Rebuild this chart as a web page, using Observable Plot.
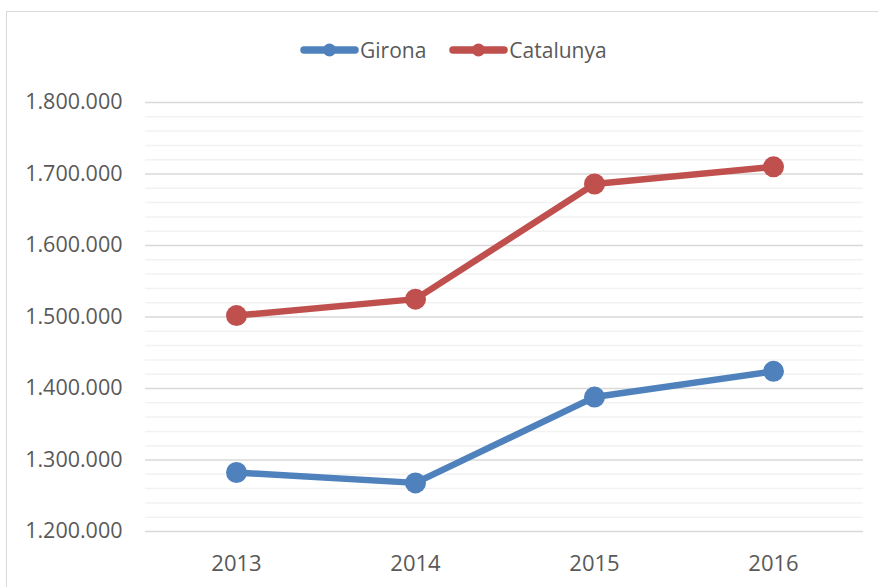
<!DOCTYPE html>
<html>
<head>
<meta charset="utf-8">
<script src="https://cdn.jsdelivr.net/npm/d3@7"></script>
<script src="https://cdn.jsdelivr.net/npm/@observablehq/plot@0.6"></script>
<style>
  html, body { margin: 0; padding: 0; background: #fff; }
  #wrap { position: relative; width: 878px; height: 587px; overflow: hidden; font-family: "Open Sans", sans-serif; }
  #border { position: absolute; left: 6px; top: 11px; width: 940px; height: 640px; border: 1.5px solid #d9d9d9; box-sizing: border-box; }
  #legend { position: absolute; left: 300px; top: 36px; display: flex; align-items: center; color: #595959; font-size: 21px; }
  #legend .item { display: flex; align-items: center; }
  #legend svg { display: block; }
  #chart { position: absolute; left: 0; top: 0; }
</style>
</head>
<body>
<div id="wrap">
  <div id="border"></div>
  <div id="chart"></div>
  <div id="legend"></div>
</div>
<script>
const years = ["2013", "2014", "2015", "2016"];
const seriesNames = ["Girona", "Catalunya"];
const girona = [1282500, 1268000, 1388000, 1424000];
const catalunya = [1502000, 1525000, 1686000, 1710000];
const seriesColors = ["#4F81BD", "#C0504D"];
const majorTicks = [1200000, 1300000, 1400000, 1500000, 1600000, 1700000, 1800000];
const minorTicks = d3.range(1200000, 1800001, 20000).filter(v => v % 100000 !== 0);

const data = [];
years.forEach((y, i) => {
  data.push({year: y, value: girona[i], series: seriesNames[0]});
  data.push({year: y, value: catalunya[i], series: seriesNames[1]});
});

const fmt = d => d3.format(",")(d).replace(/,/g, ".");

const chart = Plot.plot({
  width: 878,
  height: 587,
  marginLeft: 145,
  marginRight: 15,
  marginTop: 102,
  marginBottom: 56,
  style: {fontFamily: "'Open Sans', sans-serif", background: "transparent", color: "#595959"},
  x: {type: "point", domain: years, padding: 0.5, label: null},
  y: {domain: [1200000, 1800000], label: null},
  color: {domain: seriesNames, range: seriesColors},
  marks: [
    Plot.ruleY(minorTicks, {stroke: "#f2f2f2", strokeWidth: 1.5}),
    Plot.ruleY(majorTicks, {stroke: "#d9d9d9", strokeWidth: 1.5}),
    Plot.axisY({ticks: majorTicks, tickSize: 0, tickPadding: 23, tickFormat: fmt, fontSize: 21.5, fill: "#595959", label: null}),
    Plot.axisX({tickSize: 0, tickPadding: 24, fontSize: 22, fill: "#595959", label: null}),
    Plot.line(data, {x: "year", y: "value", z: "series", stroke: "series", strokeWidth: 6.5, strokeLinecap: "round", strokeLinejoin: "round"}),
    Plot.dot(data, {x: "year", y: "value", fill: "series", r: 10.5})
  ]
});
document.getElementById("chart").appendChild(chart);

const legend = document.getElementById("legend");
seriesNames.forEach((name, i) => {
  const item = document.createElement("div");
  item.className = "item";
  item.style.marginRight = i === 0 ? "23px" : "0";
  const ns = "http://www.w3.org/2000/svg";
  const sw = document.createElementNS(ns, "svg");
  sw.setAttribute("width", 59);
  sw.setAttribute("height", 16);
  const ln = document.createElementNS(ns, "line");
  ln.setAttribute("x1", 4); ln.setAttribute("x2", 55);
  ln.setAttribute("y1", 8); ln.setAttribute("y2", 8);
  ln.setAttribute("stroke", seriesColors[i]);
  ln.setAttribute("stroke-width", 7.5);
  ln.setAttribute("stroke-linecap", "round");
  sw.appendChild(ln);
  const c = document.createElementNS(ns, "circle");
  c.setAttribute("cx", 29.5); c.setAttribute("cy", 8); c.setAttribute("r", 6.5);
  c.setAttribute("fill", seriesColors[i]);
  sw.appendChild(c);
  item.appendChild(sw);
  const t = document.createElement("span");
  t.textContent = name;
  t.style.marginLeft = "1px";
  item.appendChild(t);
  legend.appendChild(item);
});
</script>
</body>
</html>
